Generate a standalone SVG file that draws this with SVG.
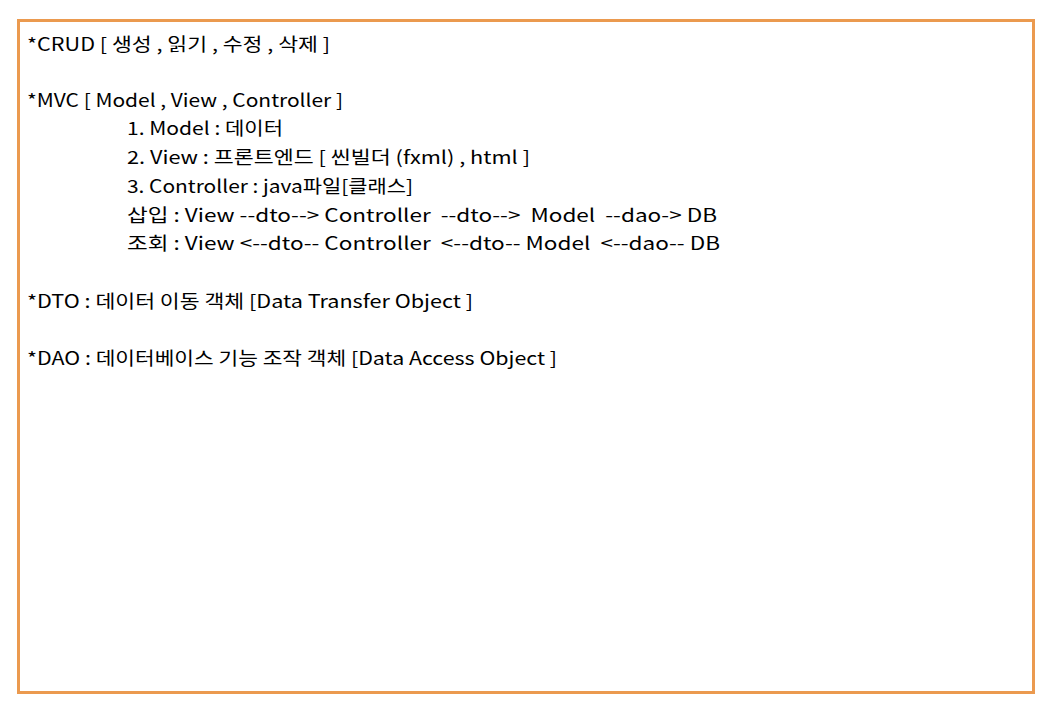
<svg xmlns="http://www.w3.org/2000/svg" width="1040" height="720" viewBox="0 0 1040 720">
<style>
.t{font-family:"Noto Sans CJK KR","Noto Sans",sans-serif;font-size:18px;fill:#000;white-space:pre}
</style>
<rect width="1040" height="720" fill="#fff"/>
<rect x="18.5" y="20.5" width="1015" height="672" fill="#fff" stroke="#eb9a4f" stroke-width="3"/>
<g id="text" xml:space="preserve">
<text class="t" x="27" y="51" textLength="303" lengthAdjust="spacingAndGlyphs">*CRUD [ 생성 , 읽기 , 수정 , 삭제 ]</text>
<text class="t" x="27" y="107" textLength="316" lengthAdjust="spacingAndGlyphs">*MVC [ Model , View , Controller ]</text>
<text class="t" x="127" y="135" textLength="156" lengthAdjust="spacingAndGlyphs">1. Model : 데이터</text>
<text class="t" x="127" y="164" textLength="403" lengthAdjust="spacingAndGlyphs">2. View : 프론트엔드 [ 씬빌더 (fxml) , html ]</text>
<text class="t" x="127" y="193" textLength="286" lengthAdjust="spacingAndGlyphs">3. Controller : java파일[클래스]</text>
<text class="t" x="127" y="222" textLength="590" lengthAdjust="spacingAndGlyphs">삽입 : View --dto--&gt; Controller  --dto--&gt;  Model  --dao-&gt; DB</text>
<text class="t" x="127" y="250" textLength="593" lengthAdjust="spacingAndGlyphs">조회 : View &lt;--dto-- Controller  &lt;--dto-- Model  &lt;--dao-- DB</text>
<text class="t" x="27" y="308" textLength="446" lengthAdjust="spacingAndGlyphs">*DTO : 데이터 이동 객체 [Data Transfer Object ]</text>
<text class="t" x="27" y="365" textLength="530" lengthAdjust="spacingAndGlyphs">*DAO : 데이터베이스 기능 조작 객체 [Data Access Object ]</text>
</g>
</svg>
